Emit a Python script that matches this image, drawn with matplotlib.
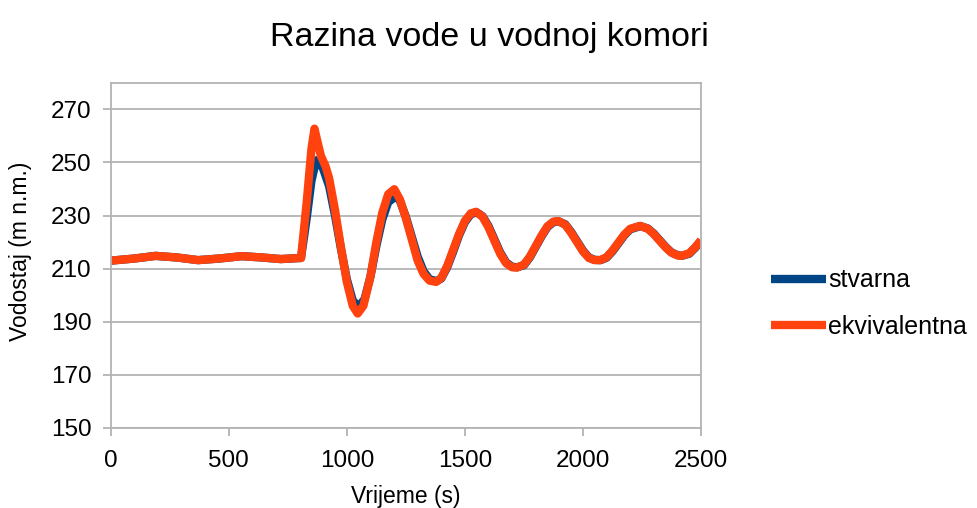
import matplotlib
matplotlib.use("Agg")
import matplotlib.pyplot as plt

plt.rcParams['font.family'] = ['Liberation Sans', 'DejaVu Sans']

# vrijeme (s) i vodostaj (m n.m.) ocitani sa slike
t_stvarna = [0, 100, 190, 280, 370, 460, 555, 640, 720, 800, 806, 830, 850, 870, 885,
             900, 925, 950, 975, 1000, 1025, 1050, 1075, 1100, 1125, 1150, 1175, 1208,
             1225, 1250, 1275, 1300, 1325, 1350, 1380, 1400, 1425, 1450, 1475, 1500,
             1525, 1550, 1575, 1600, 1625, 1650, 1675, 1700, 1722, 1750, 1775, 1800,
             1825, 1850, 1875, 1897, 1925, 1950, 1975, 2000, 2025, 2050, 2075, 2100,
             2125, 2150, 2175, 2200, 2243, 2275, 2300, 2325, 2350, 2375, 2400, 2418,
             2450, 2475, 2500]
h_stvarna = [213.0, 213.8, 214.8, 214.2, 213.2, 213.8, 214.7, 214.2, 213.6, 214.0, 214.0,
             229.0, 243.0, 250.8, 250.0, 247.5, 241.0, 230.0, 217.5, 206.0, 198.0, 195.6,
             198.5, 207.0, 218.5, 228.5, 235.0, 237.3, 235.5, 229.5, 222.0, 214.5, 209.0,
             206.0, 205.3, 206.3, 210.5, 216.3, 222.5, 227.5, 230.5, 231.2, 229.7, 226.0,
             221.0, 216.0, 212.3, 210.7, 210.5, 211.3, 214.2, 218.2, 222.2, 225.7, 227.5,
             227.8, 226.7, 223.8, 220.3, 216.8, 214.2, 213.3, 213.2, 214.1, 216.5, 219.5,
             222.5, 224.8, 226.0, 225.1, 223.2, 220.7, 218.2, 216.1, 215.1, 214.8, 215.6,
             217.8, 220.5]

t_ekviv = [0, 100, 190, 280, 370, 460, 555, 640, 720, 800, 806, 830, 850, 863, 875, 890,
           910, 925, 950, 975, 1000, 1025, 1046, 1070, 1100, 1125, 1150, 1175, 1201, 1225,
           1250, 1275, 1300, 1325, 1350, 1378, 1400, 1425, 1450, 1475, 1500, 1525, 1547,
           1575, 1600, 1625, 1650, 1675, 1700, 1720, 1750, 1775, 1800, 1825, 1850, 1875,
           1895, 1925, 1950, 1975, 2000, 2025, 2050, 2073, 2100, 2125, 2150, 2175, 2200,
           2242, 2275, 2300, 2325, 2350, 2375, 2400, 2417, 2450, 2475, 2500]
h_ekviv = [213.0, 213.8, 214.8, 214.2, 213.2, 213.8, 214.7, 214.2, 213.6, 214.0, 214.0,
           235.0, 255.0, 262.7, 258.0, 252.5, 248.5, 244.0, 232.0, 218.0, 205.0, 196.0,
           193.1, 196.0, 207.0, 220.0, 231.0, 238.0, 239.9, 236.0, 229.0, 221.0, 213.0,
           208.0, 205.5, 205.0, 206.5, 211.0, 217.0, 223.0, 228.0, 230.8, 231.4, 229.5,
           225.5, 220.5, 215.5, 212.0, 210.5, 210.4, 211.5, 214.5, 218.5, 222.5, 226.0,
           227.7, 227.9, 226.5, 223.5, 220.0, 216.5, 214.0, 213.2, 213.2, 214.3, 216.8,
           219.8, 222.8, 225.0, 226.1, 225.0, 223.0, 220.5, 218.0, 216.0, 215.0, 214.8,
           215.8, 218.0, 220.7]

y_ticks = [150, 170, 190, 210, 230, 250, 270]
x_ticks = [0, 500, 1000, 1500, 2000, 2500]

fig = plt.figure(figsize=(9.78, 5.08), dpi=100)
ax = fig.add_axes([0.1132, 0.1575, 0.6036, 0.6797])

ax.plot(t_stvarna, h_stvarna, color='#004586', linewidth=6, label='stvarna',
        solid_joinstyle='round', solid_capstyle='butt')
ax.plot(t_ekviv, h_ekviv, color='#ff420e', linewidth=6, label='ekvivalentna',
        solid_joinstyle='round', solid_capstyle='butt')

ax.set_xlim(0, 2500)
ax.set_ylim(150, 280)
ax.set_xticks(x_ticks)
ax.set_yticks(y_ticks)
ax.grid(True, axis='y', color='#b3b3b3', linewidth=1.3)
ax.set_axisbelow(True)
for s in ax.spines.values():
    s.set_color('#b3b3b3')
    s.set_linewidth(1.3)
ax.tick_params(axis='both', labelsize=17.5, color='#b3b3b3', width=1.3, length=6,
               direction='out')
ax.tick_params(axis='x', pad=10)
ax.tick_params(axis='y', pad=8)

fig.text(0.5, 0.927, 'Razina vode u vodnoj komori', fontsize=24.5, ha='center', va='center')
ax.set_xlabel('Vrijeme (s)', fontsize=16.5, labelpad=9)
ax.set_ylabel('Vodostaj (m n.m.)', fontsize=16.5)
ax.yaxis.set_label_coords(-0.133, 0.513)

ax.legend(loc='center left', bbox_to_anchor=(1.097, 0.36), frameon=False, fontsize=18,
          handlelength=2.2, handletextpad=0.1, labelspacing=0.9, borderpad=0)

plt.savefig('out.png', dpi=100)
